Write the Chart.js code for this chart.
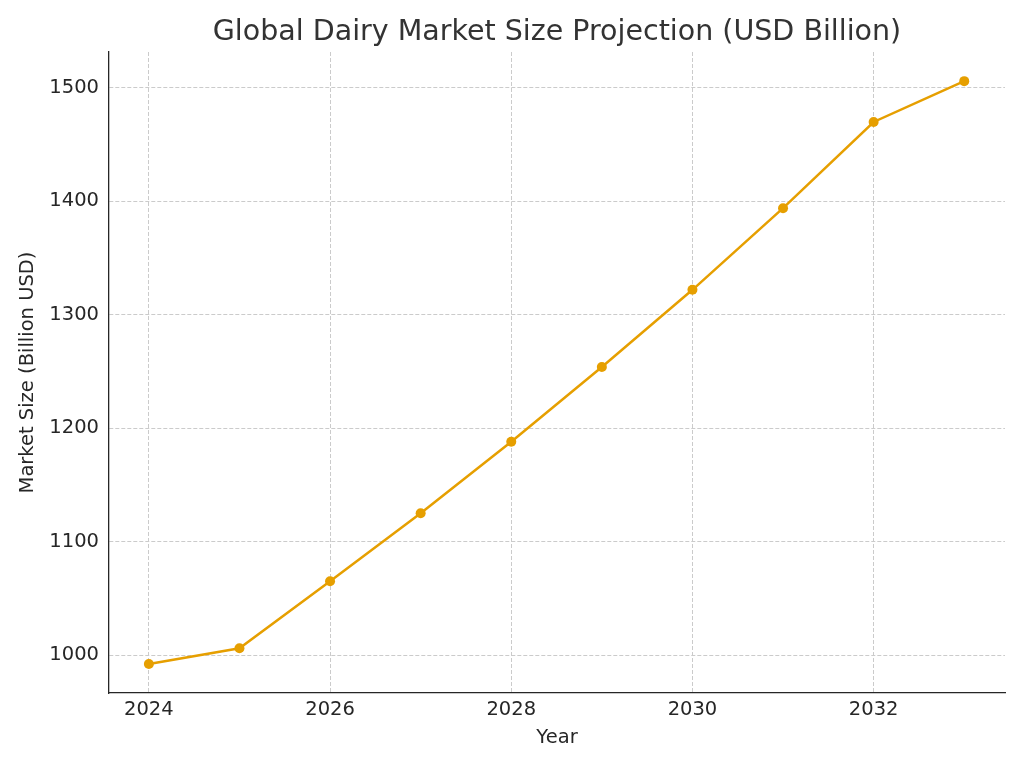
<!DOCTYPE html>
<html>
<head>
<meta charset="utf-8">
<script src="https://cdn.jsdelivr.net/npm/chart.js@4"></script>
<style>
  html, body { margin: 0; padding: 0; background: #fff; }
  #c { display: block; }
</style>
</head>
<body>
<canvas id="c" width="1024" height="768" style="width:1024px;height:768px"></canvas>
<script>
const years = [2024, 2025, 2026, 2027, 2028, 2029, 2030, 2031, 2032, 2033];
const marketSize = [992, 1006, 1065, 1125, 1188, 1254, 1322, 1394, 1470, 1506];
const xTicks = [2024, 2026, 2028, 2030, 2032];
const yTicks = [1000, 1100, 1200, 1300, 1400, 1500];

const FONT = "'DejaVu Sans', sans-serif";

new Chart(document.getElementById('c'), {
  type: 'line',
  data: {
    datasets: [{
      data: years.map((y, i) => ({ x: y, y: marketSize[i] })),
      borderColor: '#E69F00',
      backgroundColor: '#E69F00',
      borderWidth: 2.5,
      pointRadius: 5,
      pointHoverRadius: 5,
      pointBorderWidth: 0,
      tension: 0,
      fill: false
    }]
  },
  options: {
    responsive: false,
    devicePixelRatio: 1,
    animation: false,
    layout: { padding: { left: 0, right: 19, top: 0, bottom: 0 } },
    plugins: {
      legend: { display: false },
      tooltip: { enabled: false },
      title: {
        display: true,
        text: 'Global Dairy Market Size Projection (USD Billion)',
        fullSize: false,
        color: '#333333',
        font: { family: FONT, size: 28.5, weight: 'normal' },
        padding: { top: 15.9, bottom: 1.9 }
      }
    },
    scales: {
      x: {
        type: 'linear',
        min: 2023.56,
        max: 2033.45,
        afterBuildTicks: s => { s.ticks = xTicks.map(v => ({ value: v })); },
        afterFit: s => { s.height = 75; },
        ticks: {
          color: '#262626',
          font: { family: FONT, size: 19.5 },
          padding: 5,
          maxRotation: 0,
          callback: v => String(v)
        },
        grid: { color: '#cbcbcb', lineWidth: 1, drawTicks: false },
        border: { display: true, color: '#262626', width: 1.3, dash: [4, 2] },
        title: {
          display: true,
          text: 'Year',
          color: '#262626',
          font: { family: FONT, size: 19.5 },
          padding: { top: 0, bottom: 18.3 }
        }
      },
      y: {
        type: 'linear',
        min: 966.5,
        max: 1531.7,
        afterBuildTicks: s => { s.ticks = yTicks.map(v => ({ value: v })); },
        afterFit: s => { s.width = 109; },
        ticks: {
          color: '#262626',
          font: { family: FONT, size: 19.5 },
          padding: 10,
          callback: v => String(v)
        },
        grid: { color: '#cbcbcb', lineWidth: 1, drawTicks: false },
        border: { display: true, color: '#262626', width: 1.3, dash: [4, 2] },
        title: {
          display: true,
          text: 'Market Size (Billion USD)',
          color: '#262626',
          font: { family: FONT, size: 19.5 },
          padding: { top: 16.3, bottom: 0 }
        }
      }
    }
  }
});
</script>
</body>
</html>
